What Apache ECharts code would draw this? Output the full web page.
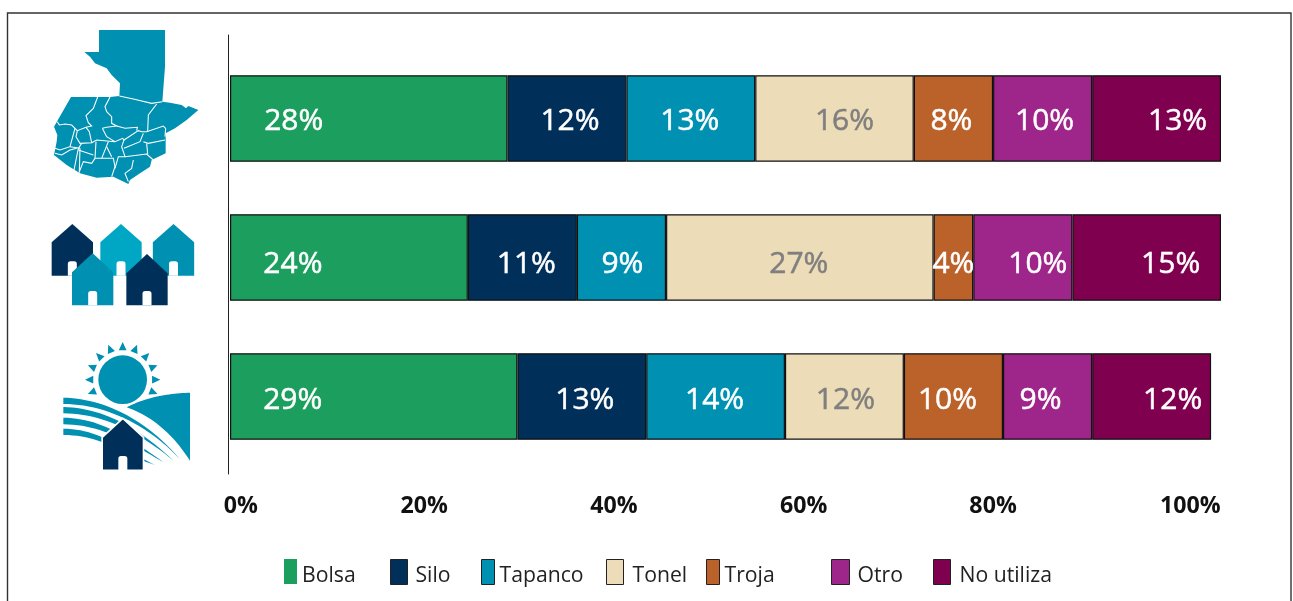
<!DOCTYPE html>
<html><head><meta charset="utf-8">
<style>html,body{margin:0;padding:0;background:#fff}#c{width:1293px;height:601px}</style>
<script src="https://cdn.jsdelivr.net/npm/echarts@6/dist/echarts.min.js"></script>
</head><body><div id="c"></div>
<script>
// Data
const regions = ['Nacional', 'Urbano', 'Rural'];
const seriesNames = ['Bolsa', 'Silo', 'Tapanco', 'Tonel', 'Troja', 'Otro', 'No utiliza'];
const bolsa = [28, 24, 29];
const silo = [12, 11, 13];
const tapanco = [13, 9, 14];
const tonel = [16, 27, 12];
const troja = [8, 4, 10];
const otro = [10, 10, 9];
const noUtiliza = [13, 15, 12];
const tickLabels = ['0%', '20%', '40%', '60%', '80%', '100%'];

// Style
const colors = ['#1b9e5e', '#00305a', '#0090b2', '#eddcb8', '#bb622a', '#9e2589', '#800050'];
const labelColors = ['#fff', '#fff', '#fff', '#7f7f7f', '#fff', '#fff', '#fff'];
const FONT = '"Open Sans", "Noto Sans", sans-serif';
// horizontal nudges of the value labels (the reference does not centre them), px per region
const labelDx = [[-75, -56, -81], [3, 4, 3], [-1, 1, -1], [10, -1, 1], [-2, 0, -6], [2, 15, -7], [21, 24, 21]];
const labelDy = [3, 7, 4];
// where the reference prints its tick labels, on the value scale
const tickAt = [1.1, 19.6, 38.75, 57.9, 77.0, 96.9];
const legendPos = [
  {left: 284, w: 13, pad: 0, border: 0},
  {left: 390, w: 17, pad: 3, border: 1},
  {left: 481, w: 13, pad: 0, border: 1},
  {left: 606, w: 17, pad: 4, border: 1},
  {left: 706, w: 13, pad: 0, border: 1},
  {left: 831, w: 18, pad: 3, border: 1},
  {left: 933, w: 17, pad: 4, border: 1}
];
const values = [bolsa, silo, tapanco, tonel, troja, otro, noUtiliza];

const series = seriesNames.map((name, i) => ({
  name, type: 'bar', stack: 'total', barWidth: 86.5, xAxisIndex: 0, yAxisIndex: 0,
  itemStyle: {color: colors[i], borderColor: '#111', borderWidth: 1.2},
  label: {show: true, position: 'inside', color: labelColors[i], fontFamily: FONT, fontSize: 30,
    textBorderColor: labelColors[i], textBorderWidth: 0.5, formatter: '{c}%'},
  data: values[i].map((v, r) => ({value: v, label: {offset: [labelDx[i][r], labelDy[r]]}}))
}));

const legends = seriesNames.map((name, i) => ({
  data: [name], left: legendPos[i].left, top: 559, orient: 'horizontal', padding: 0, icon: 'rect',
  itemWidth: legendPos[i].w, itemHeight: 25,
  itemStyle: {borderColor: legendPos[i].border ? '#222' : colors[i], borderWidth: legendPos[i].border},
  formatter: n => `{t|${n}}`,
  textStyle: {rich: {t: {fontFamily: FONT, fontSize: 21.2, color: '#222', padding: [8, 0, 0, legendPos[i].pad]}}},
  selectedMode: false
}));

// Icons (decoration), drawn in zoomed coordinates then scaled down
const TEAL = '#0090b2', NAVY = '#00305a', CYAN = '#00a7c4';
const outline = [[297,90],[495,90],[495,200],[487,305],[510,308],[545,315],[558,325],[565,318],[595,330],[560,360],[525,385],[497,400],[497,460],[455,480],[450,500],[420,520],[390,540],[385,552],[340,530],[290,533],[240,520],[200,495],[162,465],[170,425],[172,405],[162,380],[213,291],[330,291],[358,288],[360,250],[335,225],[320,205],[285,190],[270,170],[253,156],[297,156]];
const depts = [
 [[358,288],[400,297],[455,310],[487,305]],
 [[293,291],[280,325],[258,347],[265,368],[275,378],[258,382],[232,392],[215,375],[195,372],[178,375],[172,365]],
 [[330,291],[315,320],[320,335],[335,350],[335,370],[350,378],[320,382],[307,385]],
 [[470,312],[445,345],[443,395]],
 [[307,385],[320,410],[345,425],[368,415],[372,420],[415,392],[425,395],[440,395],[490,378],[497,385],[495,410]],
 [[350,378],[375,385],[412,382],[410,392]],
 [[232,392],[228,410],[240,430],[275,428],[268,395],[258,382]],
 [[275,428],[290,420],[345,425]],
 [[288,425],[285,475],[340,475],[345,500],[335,530]],
 [[325,425],[305,475]],[[320,440],[335,470]],
 [[372,420],[365,440],[375,470],[355,470],[345,505]],
 [[372,445],[420,425],[430,400]],
 [[430,425],[445,430],[495,420]],
 [[375,470],[440,462],[460,480]],
 [[440,430],[443,462]],
 [[245,430],[235,445],[222,510]],
 [[225,385],[210,440],[180,450],[165,445]],
 [[210,440],[240,445]],
 [[165,460],[185,465],[210,450],[230,445]],
 [[240,445],[238,515],[250,485],[275,490],[285,475]],
 [[235,450],[280,465]],
 [[400,480],[395,505],[375,520],[385,545]]
];
function house(cx, apex, eaves, bottom, color, stroke) {
  const hw = 62, dw = 13.5, dtop = bottom - 43;
  return [
    {type: 'polygon', shape: {points: [[cx,apex],[cx+hw,eaves],[cx+hw,bottom],[cx-hw,bottom],[cx-hw,eaves]]},
     style: {fill: color, stroke: stroke || null, lineWidth: stroke ? 5 : 0}},
    {type: 'rect', shape: {x: cx-dw, y: dtop, width: 2*dw, height: 43, r: [8,8,0,0]}, style: {fill: '#fff'}}
  ];
}
const rays = [];
for (let k = -5; k <= 5; k++) {
  const a = k * 22.5 * Math.PI / 180, cx = 368, cy = 539;
  const p = (r, da) => [cx + r * Math.sin(a + da), cy - r * Math.cos(a + da)];
  rays.push({type: 'polygon', shape: {points: [p(113, 0), p(89, 0.13), p(89, -0.13)]}, style: {fill: TEAL}});
}
// sample a cubic curve into points for polygon icon shapes
function curve(p0, p1, p2, p3) {
  const pts = [];
  for (let i = 0; i <= 24; i++) {
    const t = i / 24, u = 1 - t;
    pts.push([0, 1].map(d => u*u*u*p0[d] + 3*u*u*t*p1[d] + 3*u*t*t*p2[d] + t*t*t*p3[d]));
  }
  return pts;
}
const stripe = (y0, y1, ex, ey) => ({type: 'polygon',
  shape: {points: [
    ...curve([190,y0],[300,y0+2],[ex-110,y0+55],[ex,ey]),
    ...curve([ex,ey],[ex-100,y1+58],[310,y1],[190,y1])
  ]},
  style: {fill: TEAL}});
const graphics = [
  {type: 'rect', shape: {x: 7.5, y: 13, width: 1283.5, height: 640}, style: {fill: 'none', stroke: '#333', lineWidth: 1.4}, silent: true},
  {type: 'group', x: 0, y: 0, scaleX: 1/3, scaleY: 1/3, children: [
    {type: 'polygon', shape: {points: outline}, style: {fill: TEAL}},
    ...depts.map(d => ({type: 'polyline', shape: {points: d}, style: {stroke: '#fff', lineWidth: 3.2, fill: 'none'}}))
  ]},
  {type: 'group', x: 0, y: 200, scaleX: 1/3, scaleY: 1/3, children: [
    ...house(217, 72, 127, 227, NAVY),
    ...house(363, 72, 127, 227, CYAN),
    ...house(520.5, 72, 127, 227, TEAL),
    ...house(278, 160, 217, 316, TEAL),
    ...house(441, 162, 220, 316, NAVY),
    ...rays,
    {type: 'circle', shape: {cx: 368, cy: 539, r: 73}, style: {fill: TEAL}},
    {type: 'polygon', shape: {points: [...curve([380,622],[440,590],[510,580],[570,578]), [570,782], ...curve([570,782],[520,705],[460,650],[380,622])]}, style: {fill: TEAL}},
    stripe(593, 612, 540, 778),
    stripe(621, 640, 520, 782),
    stripe(653, 673, 490, 786),
    stripe(686, 705, 465, 795),
    ...house(368.5, 655, 712, 811, NAVY, '#fff')
  ]}
];

const option = {
  animation: false,
  backgroundColor: '#fff',
  grid: [
    {left: 230, width: 991, top: 49, height: 417, containLabel: false},
    {left: 228.5, width: 10, top: 35, height: 439}
  ],
  xAxis: [
    {gridIndex: 0, type: 'value', min: 0, max: 100, splitLine: {show: false}, axisLine: {show: false}, axisTick: {show: false},
     axisLabel: {show: true, customValues: tickAt, margin: 29, color: '#111', fontFamily: FONT, fontSize: 23.2, fontWeight: 'bold',
       formatter: v => tickLabels[tickAt.indexOf(v)]}},
    {gridIndex: 1, type: 'value', min: 0, max: 1, show: false}
  ],
  yAxis: [
    {gridIndex: 0, type: 'category', inverse: true, data: regions, axisLine: {show: false}, axisTick: {show: false}, axisLabel: {show: false}},
    {gridIndex: 1, type: 'value', min: 0, max: 1, position: 'left', splitLine: {show: false}, axisTick: {show: false}, axisLabel: {show: false},
     axisLine: {show: true, onZero: false, lineStyle: {color: '#222', width: 1}}}
  ],
  legend: legends,
  graphic: graphics,
  series
};
const chart = echarts.init(document.getElementById('c'), null, {renderer: 'canvas'});
chart.setOption(option);
</script></body></html>
